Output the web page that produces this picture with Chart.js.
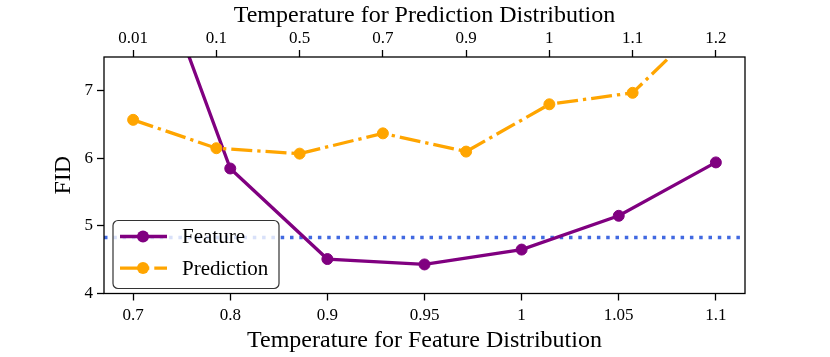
<!DOCTYPE html>
<html>
<head>
<meta charset="utf-8">
<script src="https://cdn.jsdelivr.net/npm/chart.js@4/dist/chart.umd.min.js"></script>
<style>
  html, body { margin: 0; padding: 0; background: #fff; }
  #chart { display: block; }
</style>
</head>
<body>
<canvas id="chart" width="830" height="357"></canvas>
<script>
// values
const featureTemps = ["0.7", "0.8", "0.9", "0.95", "1", "1.05", "1.1"];
const featureFID = [9.75, 5.85, 4.51, 4.43, 4.65, 5.15, 5.94];
const predictionTemps = ["0.01", "0.1", "0.5", "0.7", "0.9", "1", "1.1", "1.2"];
const predictionFID = [6.57, 6.15, 6.07, 6.37, 6.10, 6.80, 6.97, 8.16];
const baselineFID = 4.83;
const fidTicks = [4, 5, 6, 7];

const SERIF = "'Liberation Serif', 'Times New Roman', serif";
const PURPLE = "#800080";
const ORANGE = "#FFA500";
const BLUE = "#4169E1";
const DASHDOT = [21, 5, 3.3, 5];
const DOTTED = [3.5, 5.8];

// matplotlib style 5% margins around index positions
const margin = n => (n - 1) * 0.05;

const toPoints = vals => vals.map((v, i) => ({ x: i, y: v }));

const frameAndLegend = {
  id: "frameAndLegend",
  afterDatasetsDraw (chart) {
    const { ctx, chartArea: a } = chart;
    ctx.save();
    ctx.strokeStyle = "#000";
    ctx.lineWidth = 1.3;
    ctx.strokeRect(a.left, a.top, a.right - a.left, a.bottom - a.top);

    // legend box, lower left
    const w = 166, h = 68;
    const bx = a.left + 9, by = a.bottom - 5 - h;
    ctx.beginPath();
    ctx.roundRect(bx, by, w, h, 5);
    ctx.fillStyle = "rgba(255,255,255,0.8)";
    ctx.fill();
    ctx.strokeStyle = "#333";
    ctx.lineWidth = 1.2;
    ctx.stroke();

    const items = chart.data.datasets.filter(d => d.legend);
    items.forEach((ds, i) => {
      const y = by + 16 + i * 31.6;
      ctx.strokeStyle = ds.borderColor;
      ctx.lineWidth = ds.borderWidth;
      ctx.setLineDash(ds.borderDash || []);
      ctx.beginPath();
      ctx.moveTo(bx + 7, y);
      ctx.lineTo(bx + 54, y);
      ctx.stroke();
      ctx.setLineDash([]);
      ctx.beginPath();
      ctx.arc(bx + 30, y, ds.pointRadius + 0.5, 0, Math.PI * 2);
      ctx.fillStyle = ds.pointBackgroundColor;
      ctx.fill();
      ctx.fillStyle = "#000";
      ctx.font = "21px " + SERIF;
      ctx.textBaseline = "middle";
      ctx.fillText(ds.label, bx + 69, y + 1);
    });
    ctx.restore();
  }
};

const axisGrid = {
  display: true,
  drawOnChartArea: false,
  drawTicks: true,
  tickLength: 7,
  tickWidth: 1.3,
  tickColor: "#000"
};

new Chart(document.getElementById("chart"), {
  type: "line",
  data: {
    datasets: [
      {
        label: "Feature",
        legend: true,
        xAxisID: "x",
        data: toPoints(featureFID),
        borderColor: PURPLE,
        backgroundColor: PURPLE,
        pointBackgroundColor: PURPLE,
        pointBorderColor: PURPLE,
        borderWidth: 3.3,
        pointRadius: 5.5,
        pointBorderWidth: 1,
        tension: 0,
        order: 2
      },
      {
        label: "Prediction",
        legend: true,
        xAxisID: "x2",
        data: toPoints(predictionFID),
        borderColor: ORANGE,
        backgroundColor: ORANGE,
        pointBackgroundColor: ORANGE,
        pointBorderColor: ORANGE,
        borderWidth: 3.3,
        borderDash: DASHDOT,
        pointRadius: 5.5,
        pointBorderWidth: 1,
        tension: 0,
        order: 1
      },
      {
        label: "Baseline",
        xAxisID: "x",
        data: [
          { x: -margin(featureTemps.length), y: baselineFID },
          { x: featureTemps.length - 1 + margin(featureTemps.length), y: baselineFID }
        ],
        borderColor: BLUE,
        borderWidth: 3.5,
        borderDash: DOTTED,
        pointRadius: 0,
        order: 3
      }
    ]
  },
  options: {
    responsive: false,
    animation: false,
    events: [],
    layout: { padding: { left: 0, right: 85, top: 0, bottom: 0 } },
    plugins: {
      legend: { display: false },
      tooltip: { enabled: false }
    },
    datasets: { line: { borderCapStyle: "butt" } },
    scales: {
      x: {
        type: "linear",
        position: "bottom",
        min: -margin(featureTemps.length),
        max: featureTemps.length - 1 + margin(featureTemps.length),
        afterBuildTicks: s => { s.ticks = featureTemps.map((_, i) => ({ value: i })); },
        afterFit: s => { s.height = 63.5; },
        grid: axisGrid,
        border: { display: false },
        ticks: {
          autoSkip: false,
          maxRotation: 0,
          padding: 5,
          color: "#000",
          font: { family: SERIF, size: 17 },
          callback: v => featureTemps[v]
        },
        title: {
          display: true,
          text: "Temperature for Feature Distribution",
          color: "#000",
          font: { family: SERIF, size: 24 },
          padding: { top: 0, bottom: 2 }
        }
      },
      x2: {
        type: "linear",
        position: "top",
        min: -margin(predictionTemps.length),
        max: predictionTemps.length - 1 + margin(predictionTemps.length),
        afterBuildTicks: s => { s.ticks = predictionTemps.map((_, i) => ({ value: i })); },
        afterFit: s => { s.height = 57; },
        grid: axisGrid,
        border: { display: false },
        ticks: {
          autoSkip: false,
          maxRotation: 0,
          padding: 1,
          color: "#000",
          font: { family: SERIF, size: 17 },
          callback: v => predictionTemps[v]
        },
        title: {
          display: true,
          text: "Temperature for Prediction Distribution",
          color: "#000",
          font: { family: SERIF, size: 24 },
          padding: { top: 1, bottom: 0 }
        }
      },
      y: {
        type: "linear",
        min: 4,
        max: 7.5,
        afterBuildTicks: s => { s.ticks = fidTicks.map(v => ({ value: v })); },
        afterFit: s => { s.width = 104; },
        grid: axisGrid,
        border: { display: false },
        ticks: {
          padding: 4,
          color: "#000",
          font: { family: SERIF, size: 17 },
          callback: v => String(v)
        },
        title: {
          display: true,
          text: "FID",
          color: "#000",
          font: { family: SERIF, size: 24 },
          padding: { top: 49, bottom: 0 }
        }
      }
    }
  },
  plugins: [frameAndLegend]
});
</script>
</body>
</html>
